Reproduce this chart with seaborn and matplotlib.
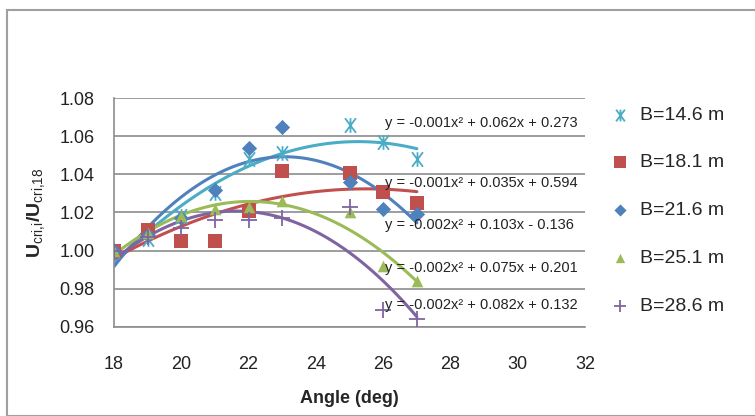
import numpy as np
import pandas as pd
import seaborn as sns
from matplotlib import pyplot as plt
from matplotlib.patches import Rectangle
from matplotlib.path import Path

angles = [18, 19, 20, 21, 22, 23, 25, 26, 27]
b146 = [1.000, 1.006, 1.018, 1.030, 1.048, 1.051, 1.066, 1.057, 1.048]
b181 = [1.000, 1.011, 1.005, 1.005, 1.021, 1.042, 1.041, 1.031, 1.025]
b216 = [1.000, 1.008, 1.017, 1.032, 1.054, 1.065, 1.036, 1.022, 1.019]
b251 = [1.000, 1.009, 1.018, 1.022, 1.023, 1.026, 1.020, 0.992, 0.984]
b286 = [1.000, 1.007, 1.012, 1.016, 1.016, 1.017, 1.023, 0.969, 0.964]

labels = ["B=14.6 m", "B=18.1 m", "B=21.6 m", "B=25.1 m", "B=28.6 m"]
equations = ["y = -0.001x\u00b2 + 0.062x + 0.273",
             "y = -0.001x\u00b2 + 0.035x + 0.594",
             "y = -0.002x\u00b2 + 0.103x - 0.136",
             "y = -0.002x\u00b2 + 0.075x + 0.201",
             "y = -0.002x\u00b2 + 0.082x + 0.132"]
colors = ["#4BACC6", "#C0504D", "#4F81BD", "#9BBB59", "#8064A2"]

# spreadsheet-style star: an X with a vertical bar through it
star = Path([(-0.75, -1), (0.75, 1), (-0.75, 1), (0.75, -1), (0, -1), (0, 1)],
            [Path.MOVETO, Path.LINETO, Path.MOVETO, Path.LINETO, Path.MOVETO, Path.LINETO])
markers = [star, "s", "D", "^", "+"]
sizes = [110, 110, 60, 70, 130]

series = [b146, b181, b216, b251, b286]
df = pd.concat([pd.DataFrame({"angle": angles, "ratio": s, "B": lab})
                for s, lab in zip(series, labels)], ignore_index=True)

sns.set_style("white")
plt.rcParams['font.family'] = ['Liberation Sans', 'DejaVu Sans']
plt.rcParams['mathtext.fontset'] = 'custom'
plt.rcParams['mathtext.rm'] = 'Liberation Sans'
plt.rcParams['mathtext.bf'] = 'Liberation Sans:bold'

fig = plt.figure(figsize=(7.55, 4.16), dpi=100)
ax = fig.add_axes([0.151, 0.2147, 0.624, 0.549])

# trendlines (2nd order polynomial, as in the spreadsheet)
for s, c in zip(series, colors):
    sns.regplot(x=angles, y=s, order=2, ci=None, scatter=False, ax=ax,
                line_kws=dict(color=c, lw=2.2), truncate=True)

for i, (lab, c, sz) in enumerate(zip(labels, colors, sizes)):
    sub = df[df["B"] == lab]
    m = markers[i]
    if i in (0, 4):
        ax.scatter(sub["angle"], sub["ratio"], marker=m, s=sz, color=c,
                   linewidths=1.3, label=lab, zorder=3)
    else:
        sns.scatterplot(x=sub["angle"], y=sub["ratio"], marker=m, s=sz,
                        color=c, edgecolor=c, linewidth=0, label=lab, ax=ax, zorder=3)

eq_y = [1.067, 1.0355, 1.0135, 0.9909, 0.9715]
for eq, yy in zip(equations, eq_y):
    ax.text(26.06, yy, eq, fontsize=10.5, va="center", ha="left", color="#222222")

ax.set_xlim(18, 32)
ax.set_ylim(0.96, 1.08)
ax.set_xticks(np.arange(18, 33, 2))
ax.set_yticks(np.arange(0.96, 1.081, 0.02))
ax.set_yticklabels([f"{v:.2f}" for v in np.arange(0.96, 1.081, 0.02)])
ax.yaxis.grid(True, color="#8C8C8C", lw=1.2)
ax.set_axisbelow(True)
for sp in ["top", "right"]:
    ax.spines[sp].set_visible(False)
for sp in ["left", "bottom"]:
    ax.spines[sp].set_color("#8C8C8C")
    ax.spines[sp].set_linewidth(1.2)
ax.tick_params(axis="both", direction="out", length=6, width=1.2, color="#8C8C8C",
               labelsize=13, labelcolor="#222222")
ax.tick_params(axis="x", pad=15)
ax.tick_params(axis="y", pad=8)

ax.set_xlabel("Angle (deg)", fontsize=13, fontweight="bold", labelpad=12)
ax.set_ylabel(r"$\mathbf{U}_{\mathrm{cri{,}i}}\mathbf{/U}_{\mathrm{cri{,}18}}$",
              fontsize=14, labelpad=8)

handles, labs = ax.get_legend_handles_labels()
ax.legend(handles, labs, loc="upper left", bbox_to_anchor=(0.783, 0.787),
          bbox_transform=fig.transFigure, frameon=False, fontsize=14,
          labelspacing=1.55, handletextpad=0.4, handlelength=1.2, markerscale=0.8)

fig.patches.append(Rectangle((7 / 755, 0), 1.2, 1 - 10 / 416, transform=fig.transFigure,
                             fill=False, edgecolor="#A0A0A0", lw=1.5))

fig.savefig("out.png", dpi=100)
